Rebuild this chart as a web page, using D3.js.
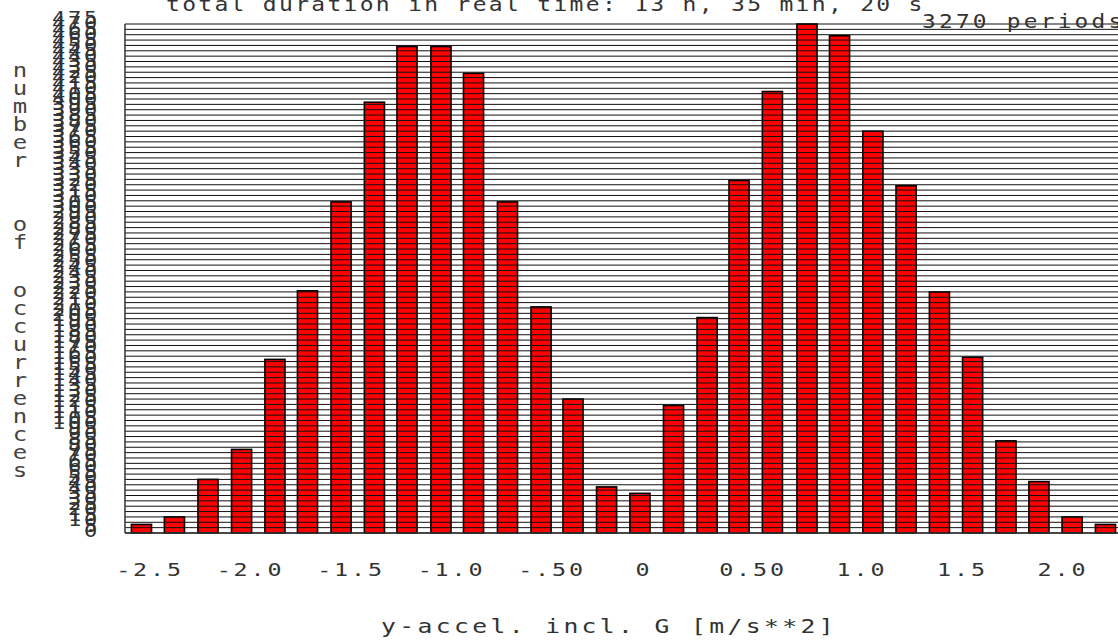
<!DOCTYPE html>
<html>
<head>
<meta charset="utf-8">
<script src="https://cdn.jsdelivr.net/npm/d3@7"></script>
<style>
  body { margin: 0; background: #fff; }
  text { font-family: "DejaVu Sans Mono", monospace; fill: #333; white-space: pre; }
</style>
</head>
<body>
<svg id="chart" width="1118" height="644"></svg>
<script>
// histogram data
const binCenters = [-2.535, -2.371, -2.204, -2.037, -1.871, -1.709, -1.542, -1.376, -1.214, -1.045,
  -0.883, -0.714, -0.547, -0.388, -0.221, -0.055, 0.112, 0.279, 0.438, 0.604,
  0.776, 0.938, 1.104, 1.269, 1.435, 1.600, 1.766, 1.930, 2.095, 2.261];
const counts = [8, 15, 50, 78, 162, 226, 309, 402, 454, 454,
  429, 309, 211, 125, 43, 37, 119, 201, 329, 412,
  475, 464, 375, 324, 225, 164, 86, 48, 15, 8];

// x tick values and their labels (labels padded like the original)
const xTicks = [-2.5, -2.0, -1.5, -1.0, -0.5, 0, 0.5, 1.0, 1.5, 2.0];
const xTickLabels = ["-2.5", "-2.0", "-1.5", "-1.0", "-.50", "0 ", "0.50", " 1.0", " 1.5", " 2.0"];
const yTicks = d3.range(0, 476, 5);

const title = "total duration in real time: 13 h, 35 min, 20 s";
const periods = "3270 periods";
const xTitle = "y-accel. incl. G [m/s**2]";
const yTitleWords = ["number", "of", "occurrences"];

const svg = d3.select("#chart");
svg.append("rect").attr("width", 1118).attr("height", 644).attr("fill", "#fff");

// scales
const x = d3.scaleLinear().domain([-2.5, 2.0]).range([148.5, 1053]);
const y = d3.scaleLinear().domain([0, 475]).range([533, 24]);
const yLab = d3.scaleLinear().domain([0, 475]).range([537, 24]); // label baselines
const xLo = -2.617, xHi = 2.36;
const barW = 0.1;

// wide, thin mono text like the plotter font of the original
function wideText(sel, size, ls) {
  return sel.style("font-size", size + "px")
    .style("letter-spacing", ls + "px");
}
function place(sel, fx, fy, sx) {
  return sel.attr("transform", (d, i) => "translate(" + fx(d, i) + "," + fy(d, i) + ") scale(" + sx + ",1)");
}

// bars
svg.append("g")
  .selectAll("rect")
  .data(counts)
  .join("rect")
  .attr("x", (d, i) => x(binCenters[i] - barW / 2))
  .attr("width", (d, i) => x(binCenters[i] + barW / 2) - x(binCenters[i] - barW / 2))
  .attr("y", d => y(d))
  .attr("height", d => y(0) - y(d))
  .attr("fill", "#ff0000")
  .attr("stroke", "#000")
  .attr("stroke-width", 1.6);

// grid lines on top of the bars
svg.append("g")
  .selectAll("line")
  .data(yTicks)
  .join("line")
  .attr("x1", x(xLo))
  .attr("x2", x(xHi))
  .attr("y1", d => y(d))
  .attr("y2", d => y(d))
  .attr("stroke", "#111")
  .attr("stroke-width", 1);

// frame
svg.append("line")
  .attr("x1", x(xLo)).attr("x2", x(xLo))
  .attr("y1", y(475)).attr("y2", y(0))
  .attr("stroke", "#333").attr("stroke-width", 1.5);
svg.append("line")
  .attr("x1", x(xLo)).attr("x2", x(xHi))
  .attr("y1", y(0)).attr("y2", y(0))
  .attr("stroke", "#333").attr("stroke-width", 1.5);

// y tick labels (they overlap, as in the original)
const yt = svg.append("g")
  .selectAll("text")
  .data(yTicks)
  .join("text")
  .attr("text-anchor", "end")
  .text(d => d);
wideText(yt, 17, 2.1);
place(yt, () => 100, d => yLab(d), 1.3);

// x tick labels
const xt = svg.append("g")
  .selectAll("text")
  .data(xTicks)
  .join("text")
  .attr("text-anchor", "middle")
  .text((d, i) => xTickLabels[i]);
wideText(xt, 18, 2.2);
place(xt, d => x(d) + 1.5, () => 576, 1.3);

// titles
const t1 = svg.append("text").datum(0).text(title);
wideText(t1, 20, 2.0);
place(t1, () => 166, () => 11, 1.15);

const t2 = svg.append("text").datum(0).text(periods);
wideText(t2, 19, 2.7);
place(t2, () => 922, () => 28, 1.2);

const t3 = svg.append("text").datum(0).text(xTitle);
wideText(t3, 19, 2.6);
place(t3, () => 381, () => 633, 1.3);

// vertical y title, one letter under the other
const wordStarts = [70, 224, 290];
const pitch = 18;
const yTitle = svg.append("g");
yTitleWords.forEach(function (w, wi) {
  w.split("").forEach(function (ch, ci) {
    const t = yTitle.append("text")
      .datum(0)
      .attr("text-anchor", "middle")
      .attr("dominant-baseline", "central")
      .style("fill", "#444")
      .text(ch);
    wideText(t, 20, 0);
    place(t, () => 20, () => wordStarts[wi] + ci * pitch, 1.2);
  });
});
</script>
</body>
</html>
